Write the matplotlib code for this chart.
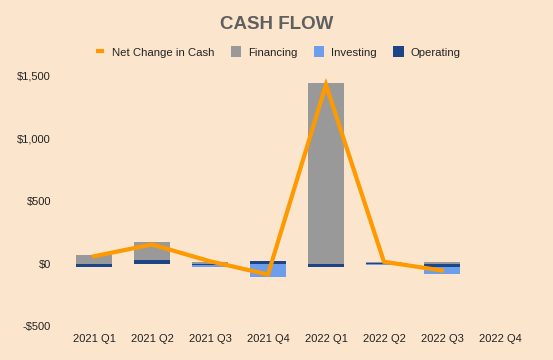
import matplotlib
matplotlib.use("Agg")
import matplotlib.pyplot as plt
import numpy as np
from matplotlib.lines import Line2D
from matplotlib.patches import Patch

plt.rcParams['font.family'] = ['Liberation Sans', 'DejaVu Sans']

quarters = ["2021 Q1", "2021 Q2", "2021 Q3", "2021 Q4", "2022 Q1", "2022 Q2", "2022 Q3", "2022 Q4"]
operating = [-28, 30, -10, 17, -25, 5, -28, 0]
investing = [-3, -5, -20, -105, -5, -12, -58, 0]
financing = [72, 145, 15, 5, 1447, 5, 12, 0]
net_change = [58, 152, 18, -88, 1430, 14, -56, np.nan]
yticks = [-500, 0, 500, 1000, 1500]
ytick_labels = ["-$500", "$0", "$500", "$1,000", "$1,500"]

bg = "#fce5cd"
c_fin = "#999999"
c_inv = "#6d9eeb"
c_op = "#1c4587"
c_net = "#ff9900"

fig = plt.figure(figsize=(5.53, 3.60), dpi=100, facecolor=bg)
ax = fig.add_axes([0.1175, 0.0944, 0.839, 0.6945], facecolor=bg)

x = np.arange(len(quarters))
w = 0.63

pos_base = np.zeros(len(x))
neg_base = np.zeros(len(x))
for vals, col in [(operating, c_op), (investing, c_inv), (financing, c_fin)]:
    v = np.array(vals, dtype=float)
    bottoms = np.where(v >= 0, pos_base, neg_base)
    ax.bar(x, v, w, bottom=bottoms, color=col, linewidth=0, zorder=2)
    pos_base = pos_base + np.where(v >= 0, v, 0)
    neg_base = neg_base + np.where(v < 0, v, 0)

ax.plot(x, net_change, color=c_net, linewidth=3, zorder=3, solid_joinstyle='miter')

ax.set_xlim(-0.5, len(x) - 0.5)
ax.set_ylim(-500, 1500)
ax.set_yticks(yticks)
ax.set_yticklabels(ytick_labels)
ax.set_xticks(x)
ax.set_xticklabels(quarters)
for s in ax.spines.values():
    s.set_visible(False)
ax.tick_params(axis='both', length=0, labelsize=8, colors="#222222")
ax.tick_params(axis='x', pad=6)
ax.tick_params(axis='y', pad=10)

fig.text(0.5, 0.932, "CASH FLOW", ha='center', va='center', fontsize=13.5,
         fontweight='bold', color="#5f5f5f")

handles = [Line2D([0], [0], color=c_net, linewidth=0, marker='_', markersize=6,
                  markeredgewidth=3),
           Patch(facecolor=c_fin), Patch(facecolor=c_inv), Patch(facecolor=c_op)]
labels = ["Net Change in Cash", "Financing", "Investing", "Operating"]
fig.legend(handles, labels, loc='center', bbox_to_anchor=(0.502, 0.856), ncol=4,
           frameon=False, fontsize=8.2, handlelength=0.95, handleheight=1.15,
           handletextpad=0.6, columnspacing=1.4, labelcolor="#222222")

fig.savefig("out.png", dpi=100, facecolor=bg)
